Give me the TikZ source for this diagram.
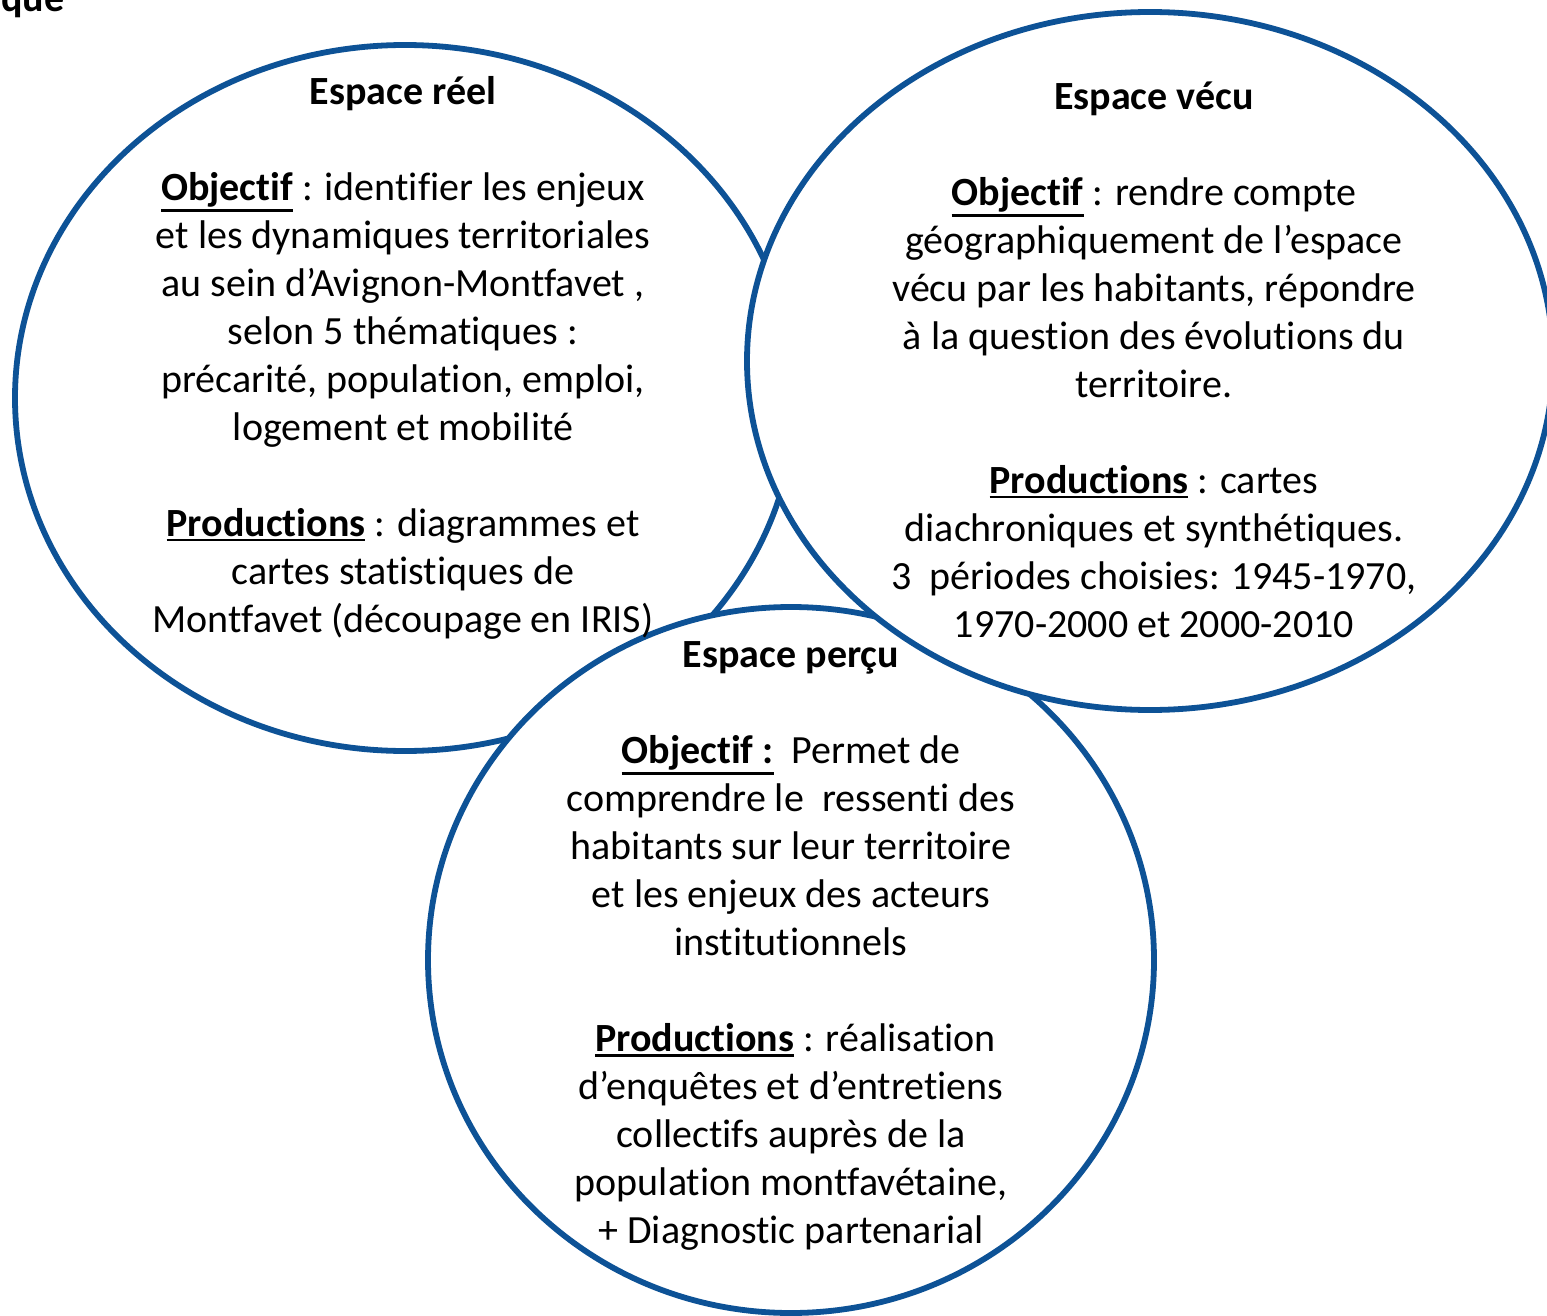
\documentclass[tikz,border=0pt]{standalone}
\usepackage{fontspec}
\setmainfont{Carlito}[Ligatures=NoCommon]
\definecolor{circblue}{RGB}{13,82,150}
\newcommand{\ulb}[1]{\setbox0\hbox{\textbf{#1}}\dimen0=\dp0\relax\advance\dimen0 by 2.4pt\relax\rlap{\rule[-\dimen0]{\wd0}{1.3pt}}\box0\relax}
\begin{document}
\begin{tikzpicture}[x=0.5pt,y=-0.5pt,
  circ/.style={draw=circblue,line width=2.9pt,fill=white},
  txt/.style={align=center,inner sep=0pt,anchor=north,font=\fontsize{20}{24}\selectfont}]
\useasboundingbox (0,0) rectangle (1547,1316);
\fill[white] (0,0) rectangle (1547,1316);
% circles: reel below, percu in the middle, vecu on top
\draw[circ] (405,398) ellipse [x radius=390,y radius=353];
\draw[circ] (791,960) ellipse [x radius=363,y radius=353];
\draw[circ] (1150,361) ellipse [x radius=403,y radius=349];
% fragment at top left
\node[anchor=base west,inner sep=0pt,font=\fontsize{20}{24}\selectfont\bfseries] (que) at (1,12) {que};
% texts
\node[txt] (reel) at (403,68) {\rule{0pt}{18pt}\textbf{Espace réel}\\[24pt]
\ulb{Objectif} : identifier les enjeux\\
et les dynamiques territoriales\\
au sein d’Avignon-Montfavet ,\\
selon 5 thématiques :\\
précarité, population, emploi,\\
logement et mobilité\\[24pt]
\ulb{Productions} : diagrammes et\\
cartes statistiques de\\
Montfavet (découpage en IRIS)};
\node[txt] (vecu) at (1154,73) {\rule{0pt}{18pt}\textbf{Espace vécu}\\[24pt]
\ulb{Objectif} : rendre compte\\
géographiquement de l’espace\\
vécu par les habitants, répondre\\
à la question des évolutions du\\
territoire.\\[24pt]
\ulb{Productions} : cartes\\
diachroniques et synthétiques.\\
3\ \ périodes choisies: 1945-1970,\\
1970-2000 et 2000-2010};
\node[txt] (percu) at (791,631) {\rule{0pt}{18pt}\textbf{Espace perçu}\\[24pt]
\ulb{Objectif :}\ \ Permet de\\
comprendre le\ \ ressenti des\\
habitants sur leur territoire\\
et les enjeux des acteurs\\
institutionnels\\[24pt]
\ \ulb{Productions} : réalisation\\
d’enquêtes et d’entretiens\\
collectifs auprès de la\\
population montfavétaine,\\
+ Diagnostic partenarial};
\end{tikzpicture}
\end{document}
